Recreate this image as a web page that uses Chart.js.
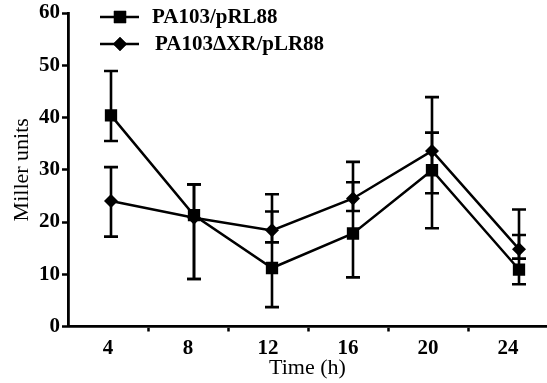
<!DOCTYPE html>
<html>
<head>
<meta charset="utf-8">
<script src="https://cdn.jsdelivr.net/npm/chart.js@4.4.2/dist/chart.umd.min.js"></script>
<style>
  html, body { margin: 0; padding: 0; background: #fff; overflow: hidden; }
  #chart { display: block; }
</style>
</head>
<body>
<canvas id="chart" width="547" height="383"></canvas>
<script>
// sampling times (h) as plotted, and the axis labels
const times = [4.15, 8.3, 12.2, 16.25, 20.2, 24.55];
const tickLabels = ['4', '8', '12', '16', '20', '24'];

// PA103/pRL88
const wildType = [40.4, 21.3, 11.2, 17.8, 29.9, 10.9];
const wildTypeLow = [35.5, 9.1, 3.7, 9.4, 18.8, 8.1];
const wildTypeHigh = [48.9, 27.2, 22.0, 27.6, 37.1, 17.5];

// PA103ΔXR/pLR88
const mutant = [24.0, 20.8, 18.4, 24.5, 33.6, 14.8];
const mutantLow = [17.2, 9.1, 16.1, 22.1, 25.5, 13.0];
const mutantHigh = [30.5, 27.2, 25.3, 31.5, 43.9, 22.4];

const serif = '"Liberation Serif", "Times New Roman", serif';

const toPoints = (values) => values.map((v, i) => ({ x: times[i], y: v }));

const errorBars = {
  id: 'errorBars',
  beforeDatasetsDraw(chart) {
    const { ctx, scales: { x, y } } = chart;
    ctx.save();
    ctx.strokeStyle = '#000';
    ctx.lineWidth = 2.6;
    chart.data.datasets.forEach(ds => {
      ds.data.forEach((pt, i) => {
        const px = x.getPixelForValue(pt.x);
        const top = y.getPixelForValue(ds.high[i]);
        const bot = y.getPixelForValue(ds.low[i]);
        ctx.beginPath();
        ctx.moveTo(px, top);
        ctx.lineTo(px, bot);
        ctx.moveTo(px - 7, top);
        ctx.lineTo(px + 7, top);
        ctx.moveTo(px - 7, bot);
        ctx.lineTo(px + 7, bot);
        ctx.stroke();
      });
    });
    ctx.restore();
  }
};

const lineLegend = {
  id: 'lineLegend',
  afterDraw(chart, args, opts) {
    const { ctx } = chart;
    ctx.save();
    chart.data.datasets.forEach((ds, i) => {
      const y = opts.rows[i];
      ctx.strokeStyle = '#000';
      ctx.lineWidth = 2.5;
      ctx.beginPath();
      ctx.moveTo(100, y);
      ctx.lineTo(139, y);
      ctx.stroke();
      ctx.fillStyle = '#000';
      Chart.helpers.drawPoint(ctx, {
        pointStyle: ds.pointStyle,
        radius: ds.pointRadius,
        rotation: 0,
        borderWidth: 0
      }, 120, y);
      ctx.fill();
      ctx.font = 'bold 21px ' + serif;
      ctx.textBaseline = 'middle';
      ctx.fillText(ds.label, opts.textX[i], y + 1);
    });
    ctx.restore();
  }
};

new Chart(document.getElementById('chart'), {
  type: 'line',
  data: {
    datasets: [
      {
        label: 'PA103/pRL88',
        data: toPoints(wildType),
        low: wildTypeLow,
        high: wildTypeHigh,
        borderColor: '#000',
        backgroundColor: '#000',
        borderWidth: 2.5,
        pointStyle: 'rect',
        pointRadius: 8.7,
        pointBorderWidth: 0,
        pointBackgroundColor: '#000'
      },
      {
        label: 'PA103ΔXR/pLR88',
        data: toPoints(mutant),
        low: mutantLow,
        high: mutantHigh,
        borderColor: '#000',
        backgroundColor: '#000',
        borderWidth: 2.5,
        pointStyle: 'rectRot',
        pointRadius: 7,
        pointBorderWidth: 0,
        pointBackgroundColor: '#000'
      }
    ]
  },
  options: {
    responsive: false,
    animation: false,
    devicePixelRatio: 1,
    layout: { autoPadding: false, padding: { top: 13, right: 0, left: 0, bottom: 0 } },
    plugins: {
      legend: { display: false },
      tooltip: { enabled: false },
      lineLegend: { rows: [17, 44], textX: [152, 155] }
    },
    scales: {
      x: {
        type: 'linear',
        min: 2,
        max: 25.95,
        afterFit: (scale) => {
          scale.height = 56.5;
          scale.paddingRight = 0;
          scale.paddingLeft = 0;
        },
        ticks: {
          stepSize: 2,
          includeBounds: false,
          autoSkip: false,
          maxRotation: 0,
          padding: 4,
          color: '#000',
          font: { family: serif, size: 21, weight: 'bold' },
          callback: (value) => value % 4 === 0 ? tickLabels[value / 4 - 1] : ''
        },
        grid: {
          drawOnChartArea: false,
          tickLength: 5,
          tickWidth: 2.5,
          tickColor: (c) => (c.tick && c.tick.value % 4 === 2 && c.tick.value > 2) ? '#000' : 'rgba(0,0,0,0)'
        },
        border: { color: '#000', width: 2.8 },
        title: {
          display: true,
          text: 'Time (h)',
          color: '#000',
          padding: { top: 0, bottom: 2 },
          font: { family: serif, size: 22 }
        }
      },
      y: {
        min: 0,
        max: 60,
        afterFit: (scale) => {
          scale.width = 68;
          scale.paddingTop = 0;
          scale.paddingBottom = 0;
        },
        ticks: {
          stepSize: 10,
          padding: 2,
          color: '#000',
          font: { family: serif, size: 21, weight: 'bold' }
        },
        grid: {
          drawOnChartArea: false,
          tickLength: 6,
          tickWidth: 2.5,
          tickColor: '#000'
        },
        border: { color: '#000', width: 2.8 },
        title: {
          display: true,
          text: 'Miller units',
          color: '#000',
          padding: { top: 9, bottom: 0 },
          font: { family: serif, size: 22 }
        }
      }
    }
  },
  plugins: [errorBars, lineLegend]
});
</script>
</body>
</html>
